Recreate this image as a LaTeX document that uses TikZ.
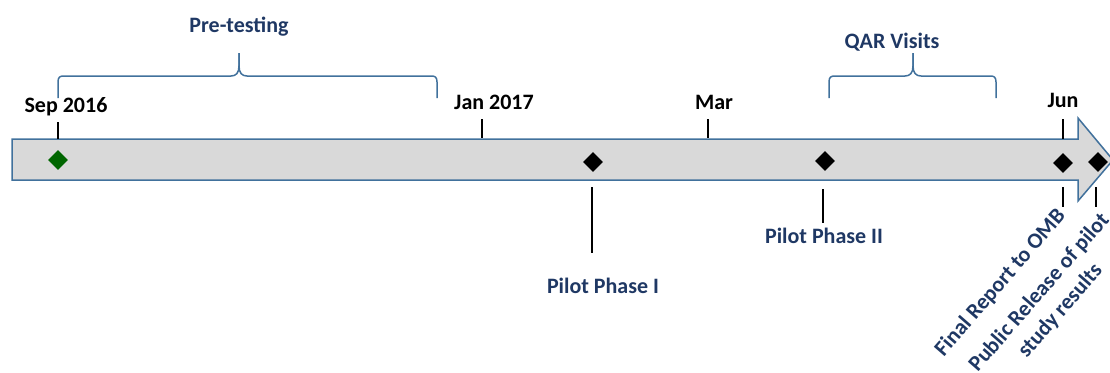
\documentclass[tikz,border=0pt]{standalone}
\usepackage{fontspec}
\setmainfont{Carlito}
\usetikzlibrary{positioning,shapes.geometric}
\definecolor{barfill}{HTML}{D9D9D9}
\definecolor{barline}{HTML}{41719C}
\definecolor{labelblue}{HTML}{1F3864}
\definecolor{startgreen}{HTML}{006600}

\begin{document}
\begin{tikzpicture}[x=1pt, y=-1pt,
		milestone/.style={diamond, fill=black, inner sep=0pt, minimum size=20pt},
		datelabel/.style={font=\fontsize{22}{27}\selectfont\bfseries, anchor=base, inner sep=0pt},
		phaselabel/.style={datelabel, text=labelblue},
		tickline/.style={draw, line width=1.5pt},
		bracket/.style={draw=barline, line width=1.5pt, line join=round},
		]
		\useasboundingbox (0,0) rectangle (1110,372);
		
		% La fleche du temps
		\draw[fill=barfill, draw=barline, line width=1.5pt]
		(12,139) -- (1078,139) -- (1078,118) -- (1113,160) -- (1078,201) -- (1078,180) -- (12,180) -- cycle;
		
		% Les jalons
		\node[milestone, fill=startgreen] (sep) at (58,160) {};
		\node[milestone] (pilotA) at (593,162) {};
		\node[milestone] (pilotB) at (825,161) {};
		\node[milestone] (omb) at (1063,163) {};
		\node[milestone] (release) at (1098,162) {};
		
		% Les dates
		\node[datelabel] (sepDate) at (66,112) {Sep 2016};
		\node[datelabel] (janDate) at (494,109) {Jan 2017};
		\node[datelabel] (marDate) at (714,109) {Mar};
		\node[datelabel] (junDate) at (1063,107) {Jun};
		
		\coordinate (sepTop) at (58,122);
		\coordinate (sepBot) at (58,139);
		\coordinate (janTop) at (482,119);
		\coordinate (janBot) at (482,138);
		\coordinate (marTop) at (708,119);
		\coordinate (marBot) at (708,138);
		\coordinate (junTop) at (1063,119);
		\coordinate (junBot) at (1063,139);
		\draw[tickline] (sepTop) -- (sepBot);
		\draw[tickline] (janTop) -- (janBot);
		\draw[tickline] (marTop) -- (marBot);
		\draw[tickline] (junTop) -- (junBot);
		
		% Les phases
		\node[phaselabel] (pretest) at (239,32) {Pre-testing};
		\node[phaselabel] (qar) at (892,48) {QAR Visits};
		\node[phaselabel] (phaseA) at (603,293) {Pilot Phase I};
		\node[phaselabel] (phaseB) at (824,243) {Pilot Phase II};
		\node[phaselabel, rotate=49] (ombText) at (1005,287) {Final Report to OMB};
		\node[font=\fontsize{22}{28}\selectfont\bfseries, text=labelblue, align=center, inner sep=0pt, rotate=49]
		(releaseText) at (1050,302) {Public Release of pilot\\study results};
		
		\coordinate (pilotATop) at (592,187);
		\coordinate (pilotABot) at (592,253);
		\coordinate (pilotBTop) at (823,189);
		\coordinate (pilotBBot) at (823,223);
		\coordinate (ombTop) at (1063,187);
		\coordinate (ombBot) at (1063,207);
		\coordinate (releaseTop) at (1096,187);
		\coordinate (releaseBot) at (1096,207);
		\draw[tickline] (pilotATop) -- (pilotABot);
		\draw[tickline] (pilotBTop) -- (pilotBBot);
		\draw[tickline] (ombTop) -- (ombBot);
		\draw[tickline] (releaseTop) -- (releaseBot);
		
		% Les accolades
		\draw[bracket] (58,98) -- (58,82) .. controls (58,77) and (60,76) .. (64,76) -- (231,76)
		.. controls (236,76) and (239,73) .. (239,66) -- (239,53);
		\draw[bracket] (239,53) -- (239,66) .. controls (239,73) and (242,76) .. (247,76) -- (431,76)
		.. controls (435,76) and (437,77) .. (437,82) -- (437,98);
		\draw[bracket] (829,98) -- (829,82) .. controls (829,77) and (831,76) .. (835,76) -- (905,76)
		.. controls (910,76) and (913,73) .. (913,66) -- (913,53);
		\draw[bracket] (913,53) -- (913,66) .. controls (913,73) and (916,76) .. (921,76) -- (990,76)
		.. controls (994,76) and (996,77) .. (996,82) -- (996,98);
	\end{tikzpicture}
\end{document}
